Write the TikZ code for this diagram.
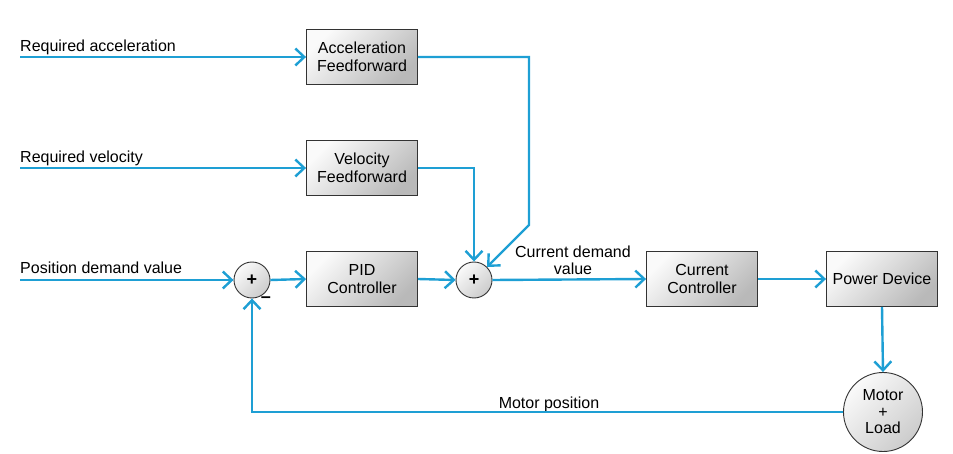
\documentclass[tikz,border=0pt]{standalone}
\usepackage{fontspec}
\setmainfont{Liberation Sans}
\usetikzlibrary{arrows.meta}
\definecolor{sig}{HTML}{1E9FD4}
\definecolor{edge}{HTML}{333333}
\tikzset{
  blk/.style={draw=edge, line width=0.9pt, minimum width=111pt, minimum height=55pt,
    align=center, inner sep=2pt, top color=gray!4, bottom color=gray!55, shading angle=45,
    font=\fontsize{16}{18}\selectfont},
  sumc/.style={circle, draw=edge, line width=0.9pt, minimum size=36pt, inner sep=0pt,
    top color=gray!4, bottom color=gray!40, shading angle=45, font=\fontsize{18}{18}\selectfont\bfseries},
  motc/.style={circle, draw=edge, line width=0.9pt, minimum size=79pt, inner sep=0pt, align=center,
    top color=gray!4, bottom color=gray!40, shading angle=45, font=\fontsize{16}{16.5}\selectfont},
  lbl/.style={inner sep=0pt, font=\fontsize{16}{17}\selectfont},
  wire/.style={draw=sig, line width=2.4pt},
  arr/.style={wire, -{Straight Barb[length=9pt,width=17pt]}},
}
\begin{document}
\begin{tikzpicture}[x=1pt,y=-1pt]
\useasboundingbox (0,0) rectangle (953,454);
\node[blk] (acc) at (362,57) {Acceleration\\Feedforward};
\node[blk] (vel) at (362,168) {Velocity\\Feedforward};
\node[blk] (pid) at (362,279) {PID\\Controller};
\node[blk] (cc) at (702,279) {Current\\Controller};
\node[blk] (pd) at (882,279) {Power Device};
\node[sumc] (s1) at (252,280) {+};
\node[sumc] (s2) at (474,280) {+};
\node[motc] (mot) at (883,412) {Motor\\+\\Load};
\coordinate (ia) at (20,57);
\coordinate (iv) at (20,168);
\coordinate (ip) at (20,280);
\coordinate (ad) at (529,225);
\coordinate (fb) at (252,412);
\node[lbl, anchor=base west] (la) at (20,52) {Required acceleration};
\node[lbl, anchor=base west] (lv) at (20,163) {Required velocity};
\node[lbl, anchor=base west] (lp) at (20,274) {Position demand value};
\node[lbl, align=center, anchor=south] (lc) at (573,275) {Current demand\\value};
\node[lbl, anchor=base] (lm) at (549,408) {Motor position};
\node[lbl, font=\fontsize{18}{18}\selectfont\bfseries] (minus) at (266,300) {--};
\draw[arr] (ia) -- (acc.west);
\draw[arr] (iv) -- (vel.west);
\draw[arr] (ip) -- (s1.west);
\draw[arr] (s1.east) -- (pid.west);
\draw[arr] (pid.east) -- (s2.west);
\draw[arr] (acc.east) -| (ad) -- (s2.45);
\draw[arr] (vel.east) -| (s2.north);
\draw[arr] (s2.east) -- (cc.west);
\draw[arr] (cc.east) -- (pd.west);
\draw[arr] (pd.south) -- (mot.north);
\draw[arr] (mot.west) -- (fb) -- (s1.south);
\end{tikzpicture}
\end{document}
